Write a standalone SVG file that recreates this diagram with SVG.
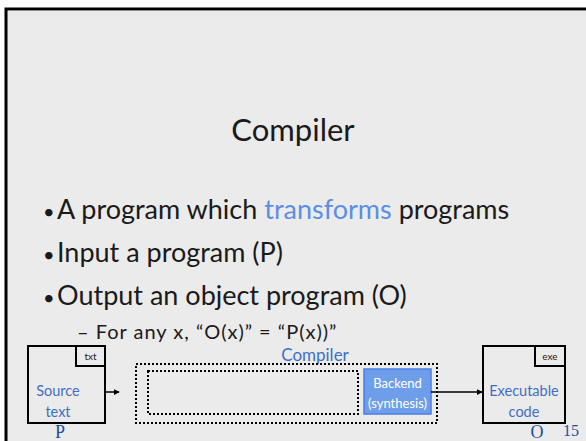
<svg xmlns="http://www.w3.org/2000/svg" width="586" height="441" viewBox="0 0 586 441">
  <style>
    .body { font-family: Lato, "Open Sans", "Liberation Sans", sans-serif; fill: #1a1a1a; }
    .blue { fill: #3f6fc4; font-family: Lato, "Open Sans", "Liberation Sans", sans-serif; }
    .serif { font-family: "Liberation Serif", "DejaVu Serif", serif; fill: #1f4f9c; }
    .box { fill: none; stroke: #000; stroke-width: 2; }
    .dotted { fill: none; stroke: #000; stroke-width: 2; stroke-dasharray: 2 2; }
    .conn { stroke: #000; stroke-width: 1.5; fill: none; }
  </style>
  <defs>
    <marker id="arrow" viewBox="0 0 8 8" refX="7" refY="4" markerWidth="6" markerHeight="6" orient="auto" markerUnits="userSpaceOnUse">
      <path d="M0,0 L8,4 L0,8 z" fill="#000"/>
    </marker>
  </defs>

  <!-- slide frame -->
  <rect x="0" y="0" width="586" height="441" fill="#ffffff"/>
  <rect x="5" y="8" width="600" height="460" fill="#ebebeb"/>
  <path d="M6,460 V9 H600" fill="none" stroke="#000" stroke-width="3"/>
  <line x1="8" y1="10.5" x2="600" y2="10.5" stroke="#8a8a8a" stroke-width="1"/>

  <!-- title -->
  <text x="293" y="141" text-anchor="middle" class="body" font-size="31">Compiler</text>

  <!-- bullets -->
  <g class="body" font-size="27">
    <text x="43" y="219" font-size="20">•</text>
    <text x="57" y="219">A program which <tspan fill="#5b8ee6">transforms</tspan> programs</text>
    <text x="43" y="262" font-size="20">•</text>
    <text x="57" y="262">Input a program (P)</text>
    <text x="43" y="305" font-size="20">•</text>
    <text x="57" y="305">Output an object program (O)</text>
  </g>
  <text x="77" y="339" class="body" font-size="20" letter-spacing="1">–  For any x, “O(x)” = “P(x))”</text>

  <!-- compiler block -->
  <g id="compiler">
    <text x="315" y="361" text-anchor="middle" class="blue" font-size="17" fill="#4a7ac8">Compiler</text>
    <rect x="136" y="364" width="301" height="59" class="dotted"/>
  </g>
  <g id="frontend">
    <rect x="148" y="371" width="210" height="43" class="dotted"/>
  </g>
  <g id="backend">
    <rect x="364" y="369" width="67" height="45" fill="#6e9eea" stroke="#4a7ee6" stroke-width="1.5"/>
    <text x="397.5" y="388" text-anchor="middle" font-size="13" fill="#ffffff" font-family="Lato, 'Open Sans', sans-serif">Backend</text>
    <text x="397.5" y="408" text-anchor="middle" font-size="13" fill="#ffffff" font-family="Lato, 'Open Sans', sans-serif">(synthesis)</text>
  </g>

  <!-- source -->
  <g id="source">
    <rect x="28" y="346" width="77" height="77" class="box"/>
    <rect x="76" y="346" width="29" height="20" class="box"/>
    <text x="90.5" y="360" text-anchor="middle" font-size="10" class="body">txt</text>
    <text x="58" y="396" text-anchor="middle" font-size="14.5" class="blue">Source</text>
    <text x="58" y="417" text-anchor="middle" font-size="14.5" class="blue">text</text>
    <text x="60" y="438" text-anchor="middle" font-size="18" class="serif">P</text>
  </g>

  <!-- executable -->
  <g id="executable">
    <rect x="483" y="346" width="82" height="77" class="box"/>
    <rect x="535" y="346" width="30" height="20" class="box"/>
    <text x="550" y="360" text-anchor="middle" font-size="10" class="body">exe</text>
    <text x="524" y="396" text-anchor="middle" font-size="14.5" class="blue">Executable</text>
    <text x="524" y="417" text-anchor="middle" font-size="14.5" class="blue">code</text>
    <text x="537" y="438" text-anchor="middle" font-size="18" class="serif">O</text>
  </g>

  <text x="571" y="436" text-anchor="middle" font-size="16" class="serif">15</text>

  <!-- connectors -->
  <g id="connectors">
    <line x1="106" y1="392" x2="119" y2="392" class="conn" marker-end="url(#arrow)"/>
    <line x1="431" y1="392" x2="482" y2="392" class="conn" marker-end="url(#arrow)"/>
  </g>
</svg>
